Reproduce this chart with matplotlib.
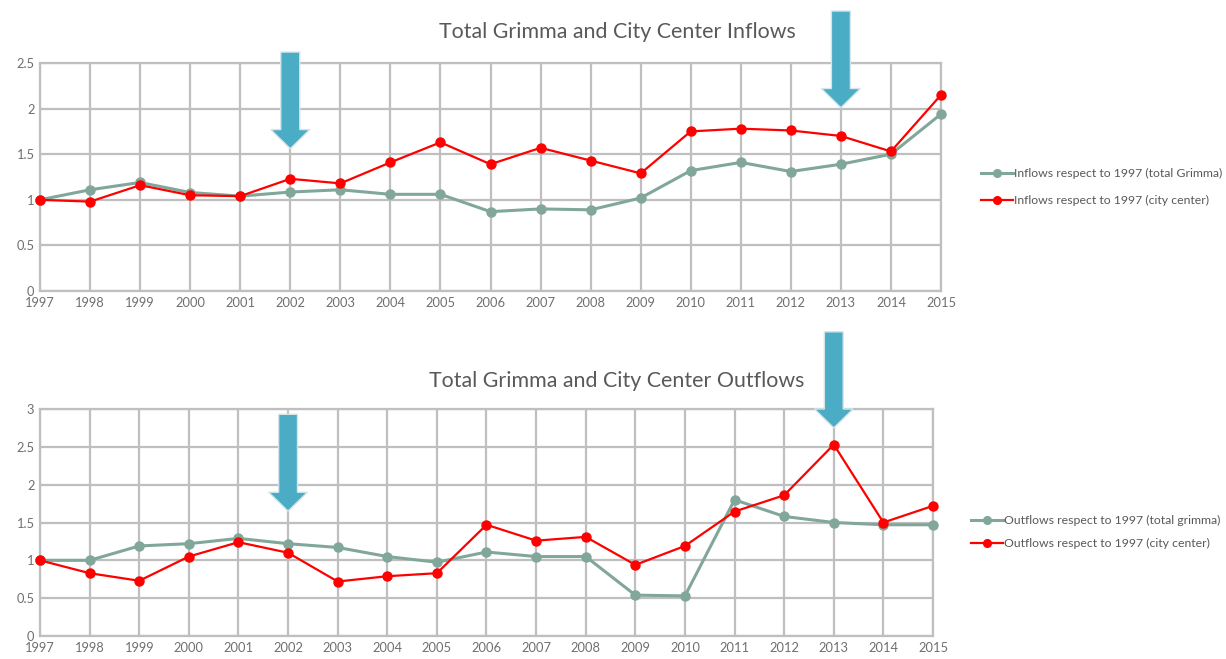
import numpy as np
import matplotlib
matplotlib.use("Agg")
import matplotlib.pyplot as plt
from matplotlib.patches import FancyArrow

plt.rcParams['font.family'] = ['Lato', 'DejaVu Sans']

# data
years = list(range(1997, 2016))

inflow_total = [1.0, 1.11, 1.19, 1.08, 1.04, 1.085, 1.11, 1.06, 1.06, 0.87,
                0.90, 0.89, 1.02, 1.32, 1.41, 1.31, 1.39, 1.50, 1.94]
inflow_center = [1.0, 0.98, 1.16, 1.05, 1.04, 1.23, 1.18, 1.41, 1.63, 1.39,
                 1.57, 1.43, 1.29, 1.75, 1.78, 1.76, 1.70, 1.53, 2.15]

outflow_total = [1.0, 1.0, 1.19, 1.22, 1.29, 1.22, 1.17, 1.05, 0.975, 1.11,
                 1.05, 1.05, 0.54, 0.53, 1.80, 1.58, 1.50, 1.47, 1.47]
outflow_center = [1.0, 0.83, 0.73, 1.05, 1.24, 1.10, 0.72, 0.79, 0.83, 1.47,
                  1.26, 1.31, 0.94, 1.19, 1.645, 1.86, 2.53, 1.50, 1.72]

# arrows: year, top of arrow, tip (in data units)
arrows_in = [(2002, 2.62, 1.56), (2013, 3.07, 2.01)]
arrows_out = [(2002, 2.93, 1.65), (2013, 4.02, 2.75)]

green = '#80A79A'
red = '#FF0000'
grid_c = '#BFBFBF'
text_c = '#595959'
tick_c = '#6F6F6F'
arrow_c = '#4BACC6'

fig = plt.figure(figsize=(12.26, 6.59), dpi=100)
fig.patch.set_facecolor('white')


def draw_panel(ax, total, center, ymax, labels, arrows, head_len):
    ax.plot(years, total, color=green, lw=2.2, marker='o', ms=6.5,
            clip_on=False, zorder=3, label=labels[0])
    ax.plot(years, center, color=red, lw=1.6, marker='o', ms=6.5,
            clip_on=False, zorder=4, label=labels[1])
    ax.set_xlim(1997, 2015)
    ax.set_ylim(0, ymax)
    ax.set_xticks(years)
    ax.set_yticks(np.arange(0, ymax + 0.01, 0.5))
    ax.set_yticklabels(['%g' % v for v in np.arange(0, ymax + 0.01, 0.5)])
    ax.grid(True, color=grid_c, lw=1.6)
    ax.set_axisbelow(True)
    for s in ax.spines.values():
        s.set_color(grid_c)
        s.set_linewidth(1.6)
    ax.tick_params(length=0, colors=tick_c, labelsize=9.3, pad=4)
    for yr, top, tip in arrows:
        ar = FancyArrow(yr, top, 0, tip - top, width=0.38, head_width=0.78,
                        head_length=head_len, length_includes_head=True,
                        facecolor=arrow_c, edgecolor='#D5E6EB', lw=1.0,
                        clip_on=False, zorder=6)
        ax.add_patch(ar)


ax1 = fig.add_axes([40 / 1226, 1 - 291 / 659, 901 / 1226, 228 / 659])
draw_panel(ax1, inflow_total, inflow_center, 2.5,
           ['Inflows respect to 1997 (total Grimma)',
            'Inflows respect to 1997 (city center)'], arrows_in, 0.21)
fig.text(617 / 1226, 1 - 32 / 659, 'Total Grimma and City Center Inflows',
         ha='center', va='center', fontsize=15.4, color=text_c)
ax1.legend(loc='center left', bbox_to_anchor=(970 / 1226, 1 - 187 / 659),
           bbox_transform=fig.transFigure, frameon=False, fontsize=8.8,
           handlelength=2.6, handletextpad=0.1, labelspacing=1.3,
           markerscale=0.85, labelcolor=text_c)

ax2 = fig.add_axes([40 / 1226, 1 - 636 / 659, 893 / 1226, 227 / 659])
draw_panel(ax2, outflow_total, outflow_center, 3,
           ['Outflows respect to 1997 (total grimma)',
            'Outflows respect to 1997 (city center)'], arrows_out, 0.25)
fig.text(617 / 1226, 1 - 381 / 659, 'Total Grimma and City Center Outflows',
         ha='center', va='center', fontsize=15.4, color=text_c)
ax2.legend(loc='center left', bbox_to_anchor=(960 / 1226, 1 - 532 / 659),
           bbox_transform=fig.transFigure, frameon=False, fontsize=8.8,
           handlelength=2.6, handletextpad=0.1, labelspacing=1.0,
           markerscale=0.85, labelcolor=text_c)

fig.savefig('out.png', dpi=100, facecolor='white')
